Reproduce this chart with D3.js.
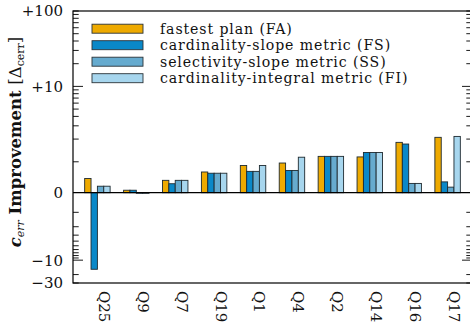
<!DOCTYPE html>
<html>
<head>
<meta charset="utf-8">
<script src="https://cdn.jsdelivr.net/npm/d3@7"></script>
<style>
  html, body { margin: 0; padding: 0; background: #fff; }
  svg { display: block; }
  text { font-family: "DejaVu Serif", "Liberation Serif", serif; fill: #111; }
</style>
</head>
<body>
<svg id="chart" width="470" height="327"></svg>
<script>
// Queries, in plotting order
const queries = ["Q25", "Q9", "Q7", "Q19", "Q1", "Q4", "Q2", "Q14", "Q16", "Q17"];

// Improvement of c_err per query for each planning strategy
const fastestPlan      = [0.46, 0.08, 0.40, 0.67, 0.88, 0.96, 1.18, 1.16, 1.81, 2.11];
const cardSlope        = [-15.5, 0.08, 0.29, 0.63, 0.69, 0.72, 1.18, 1.33, 1.72, 0.35];
const selSlope         = [0.21, -0.03, 0.40, 0.63, 0.69, 0.72, 1.18, 1.33, 0.30, 0.18];
const cardIntegral     = [0.21, -0.03, 0.40, 0.63, 0.88, 1.15, 1.18, 1.33, 0.30, 2.17];

const seriesNames  = ["fastest plan (FA)", "cardinality-slope metric (FS)",
                      "selectivity-slope metric (SS)", "cardinality-integral metric (FI)"];
const seriesColors = ["#eeaa00", "#0a88c8", "#66abcf", "#a7d6ee"];

// Axis ticks
const majorTicks  = [100, 10, 0, -10, -30];
const majorLabels = ["+100", "+10", "0", "\u221210", "\u221230"];
const minorTicks  = [20, 30, 40, 50, 60, 70, 80, 90,
                     1, 2, 3, 4, 5, 6, 7, 8, 9,
                     -1, -2, -3, -4, -5, -6, -7, -8, -9, -20];

const series = [fastestPlan, cardSlope, selSlope, cardIntegral];

// Symmetric log transform with a linear stretch around zero
const LIN = 0.41;
function tf(v) {
  const a = Math.abs(v);
  const t = a <= 1 ? a * LIN : LIN + Math.log10(a);
  return v < 0 ? -t : t;
}

const svg = d3.select("#chart");
const plotL = 73, plotR = 472, plotT = 11, plotB = 283, zeroY = 192.7;

const yLin = d3.scaleLinear().domain([tf(-30), 0, tf(100)]).range([plotB, zeroY, plotT]);
const y = v => yLin(tf(v));

const x = d3.scaleBand().domain(queries).range([plotL, plotR]).paddingOuter(0.3).paddingInner(0.346);
const xs = d3.scaleBand().domain(d3.range(4)).range([0, x.bandwidth()]);

// Bars
const g = svg.append("g");
series.forEach((vals, si) => {
  g.selectAll(null).data(vals).enter().append("rect")
    .attr("x", (d, i) => x(queries[i]) + xs(si))
    .attr("width", xs.bandwidth())
    .attr("y", d => Math.min(y(d), y(0)))
    .attr("height", d => Math.max(0.6, Math.abs(y(d) - y(0))))
    .attr("fill", seriesColors[si])
    .attr("stroke", "#1e2a30")
    .attr("stroke-width", 0.9);
});

// Zero line
svg.append("line").attr("x1", plotL).attr("x2", plotR)
  .attr("y1", y(0)).attr("y2", y(0))
  .attr("stroke", "#000").attr("stroke-width", 1.3);

// Frame
svg.append("rect").attr("x", plotL).attr("y", plotT)
  .attr("width", plotR - plotL).attr("height", plotB - plotT)
  .attr("fill", "none").attr("stroke", "#000").attr("stroke-width", 1.2);

// Ticks, mirrored on both sides
function tickLen(v) { return Math.abs(v) === 10 ? 10 : 5.7; }
const allTicks = majorTicks.filter(v => v !== 0).concat(minorTicks);
allTicks.forEach(v => {
  const yy = y(v);
  svg.append("line").attr("x1", plotL).attr("x2", plotL + tickLen(v))
    .attr("y1", yy).attr("y2", yy).attr("stroke", "#000").attr("stroke-width", 0.9);
  svg.append("line").attr("x1", plotR).attr("x2", plotR - tickLen(v))
    .attr("y1", yy).attr("y2", yy).attr("stroke", "#000").attr("stroke-width", 0.9);
});

// Tick labels
majorTicks.forEach((v, i) => {
  svg.append("text").attr("x", 63).attr("y", y(v))
    .attr("dy", "0.36em").attr("text-anchor", "end")
    .attr("font-size", 15).text(majorLabels[i]);
});

// Category labels, rotated to read downward
queries.forEach(q => {
  const cx = x(q) + x.bandwidth() / 2 - 4;
  svg.append("text")
    .attr("transform", `translate(${cx},291) rotate(90)`)
    .attr("dy", "-0.36em")
    .attr("font-size", 15)
    .text(q);
});

// Y axis title
const yt = svg.append("text")
  .attr("transform", `translate(21,${(plotT + plotB) / 2 - 5}) rotate(-90)`)
  .attr("text-anchor", "middle").attr("font-size", 16.5);
yt.append("tspan").attr("font-weight", "bold").attr("font-style", "italic").text("c");
yt.append("tspan").attr("font-style", "italic").attr("font-size", 11).attr("dy", 3).text("err");
yt.append("tspan").attr("dy", -3).attr("font-weight", "bold").text(" Improvement ");
yt.append("tspan").text("[\u0394");
yt.append("tspan").attr("font-size", 11).attr("dy", 3).text("cerr");
yt.append("tspan").attr("dy", -3).text("]");

// Legend
const lg = svg.append("g");
seriesNames.forEach((name, i) => {
  const cy = 28.7 + i * 16.5;
  lg.append("rect").attr("x", 92).attr("y", cy - 4.5).attr("width", 51).attr("height", 9)
    .attr("fill", seriesColors[i]).attr("stroke", "#2a3338").attr("stroke-width", 0.9);
  lg.append("text").attr("x", 160).attr("y", cy).attr("dy", "0.36em")
    .attr("font-size", 14.1).attr("letter-spacing", 0.9).text(name);
});
</script>
</body>
</html>
